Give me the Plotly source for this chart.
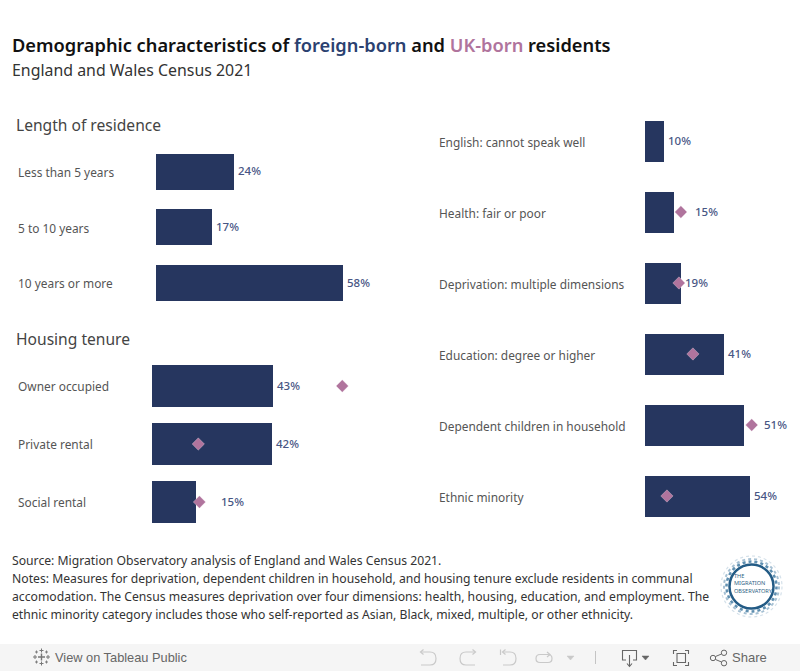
import plotly.graph_objects as go

# ---------- data ----------
residence_cats = ["Less than 5 years", "5 to 10 years", "10 years or more"]
residence_foreign = [24.2, 17.4, 58.1]
residence_labels = ["24%", "17%", "58%"]

housing_cats = ["Owner occupied", "Private rental", "Social rental"]
housing_foreign = [42.6, 42.25, 15.5]
housing_uk = [67, 16.3, 16.7]
housing_labels = ["43%", "42%", "15%"]

demo_cats = ["English: cannot speak well", "Health: fair or poor", "Deprivation: multiple dimensions",
             "Education: degree or higher", "Dependent children in household", "Ethnic minority"]
demo_foreign = [9.8, 14.9, 18.6, 40.7, 51, 54.1]
demo_uk = [None, 18.5, 17.5, 24.7, 55, 11.3]
demo_labels = ["10%", "15%", "19%", "41%", "51%", "54%"]

footer_lines = [
    "Source: Migration Observatory analysis of England and Wales Census 2021.",
    "Notes: Measures for deprivation, dependent children in household, and housing tenure exclude residents in communal",
    "accomodation. The Census measures deprivation over four dimensions: health, housing, education, and employment. The",
    "ethnic minority category includes those who self-reported as Asian, Black, mixed, multiple, or other ethnicity.",
]

# ---------- style ----------
FONT = "Noto Sans"
NAVY = "#26365f"
PINK = "#b0749d"
LABEL = "#485684"
W, H = 800, 671

fig = go.Figure()


def dom_x(a, b):
    return [a / W, b / W]


def dom_y(top, bottom):
    return [1 - bottom / H, 1 - top / H]


panels = [
    dict(cats=residence_cats, foreign=residence_foreign, uk=None, labels=residence_labels, xa="x", ya="y",
         xdom=(156, 400), ydom=(144.2, 310.8), scale=3.22, gap=0.35, shifts=[4, 4, 4], ys=0),
    dict(cats=housing_cats, foreign=housing_foreign, uk=housing_uk, labels=housing_labels, xa="x2", ya="y2",
         xdom=(152, 400), ydom=(357, 531), scale=2.84, gap=0.276, shifts=[4, 4, 25], ys=0),
    dict(cats=demo_cats, foreign=demo_foreign, uk=demo_uk, labels=demo_labels, xa="x3", ya="y3",
         xdom=(645, 800), ydom=(105.5, 531.5), scale=1.94, gap=0.433, shifts=[4, 21, 4, 4, 20, 4], ys=-0.7),
]

annotations = []
for i, p in enumerate(panels):
    sfx = "" if i == 0 else str(i + 1)
    fig.add_trace(go.Bar(y=p["cats"], x=p["foreign"], orientation="h", marker_color=NAVY,
                         marker_line_width=0, xaxis=p["xa"], yaxis=p["ya"], showlegend=False,
                         width=1 - p["gap"]))
    if p["uk"]:
        fig.add_trace(go.Scatter(y=p["cats"], x=p["uk"], mode="markers", xaxis=p["xa"], yaxis=p["ya"],
                                 marker=dict(symbol="diamond", size=9.5, color=PINK,
                                             line=dict(color="rgba(255,255,255,0.45)", width=0.6)),
                                 cliponaxis=False, showlegend=False))
    xr = (p["xdom"][1] - p["xdom"][0]) / p["scale"]
    fig.update_layout({
        f"xaxis{sfx}": dict(domain=dom_x(*p["xdom"]), range=[0, xr], visible=False, fixedrange=True),
        f"yaxis{sfx}": dict(domain=dom_y(*p["ydom"]), type="category", autorange="reversed",
                            visible=False, fixedrange=True, categoryorder="array", categoryarray=p["cats"]),
    })
    label_x = 439 if i == 2 else 18
    for cat, val, lab, sh in zip(p["cats"], p["foreign"], p["labels"], p["shifts"]):
        annotations.append(dict(x=label_x / W, xref="paper", y=cat, yref=p["ya"], text=cat, showarrow=False,
                                xanchor="left", yanchor="middle", yshift=p["ys"], borderpad=0, borderwidth=0,
                                font=dict(family=FONT, size=11.9, color="#555555")))
        annotations.append(dict(x=val, xref=p["xa"], y=cat, yref=p["ya"], text=lab, showarrow=False,
                                xanchor="left", yanchor="middle", xshift=sh, yshift=1, borderpad=0, borderwidth=0,
                                font=dict(family=FONT, size=11.5, color=LABEL, weight=500)))

# overlay axis in page pixels for page furniture (title, footer, toolbar)
fig.add_trace(go.Scatter(x=[0, W], y=[H, 0], mode="markers", marker=dict(opacity=0, size=1),
                         xaxis="x4", yaxis="y4", showlegend=False, hoverinfo="skip"))
fig.update_layout(
    xaxis4=dict(domain=[0, 1], range=[0, W], visible=False, fixedrange=True),
    yaxis4=dict(domain=[0, 1], range=[H, 0], visible=False, fixedrange=True),
)


def txt(x, y, text, size, color="#333333", family=FONT, weight=None):
    font = dict(family=family, size=size, color=color)
    if weight:
        font["weight"] = weight
    annotations.append(dict(x=x, y=y, xref="x4", yref="y4", text=text, showarrow=False, xanchor="left",
                            yanchor="middle", align="left", borderpad=0, borderwidth=0, font=font))


txt(12, 44.5, 'Demographic characteristics of <span style="color:#2b4170">foreign-born</span> and '
              '<span style="color:#b0749d">UK-born</span> residents', 18.25, "#111111", weight=600)
txt(12, 70, "England and Wales Census 2021", 15.9, "#333333")
txt(16, 125, "Length of residence", 15.6, "#444444")
txt(16, 339, "Housing tenure", 15.6, "#444444")
for y, line in zip([560, 578, 596, 614], footer_lines):
    txt(12, y, line, 12.2, "#333333")

shapes = []


def path(d, color="#c9c9c9", width=1.2, fill=None):
    s = dict(type="path", path=d, xref="x4", yref="y4", line=dict(color=color, width=width), layer="above")
    if fill:
        s["fillcolor"] = fill
    shapes.append(s)


def ring(r, color, width, dash="solid", cx=751.5, cy=586.5):
    shapes.append(dict(type="circle", x0=cx - r, x1=cx + r, y0=cy - r, y1=cy + r, xref="x4", yref="y4",
                       line=dict(color=color, width=width, dash=dash), layer="above"))


# toolbar
shapes.append(dict(type="rect", x0=0, x1=W, y0=644, y1=H, xref="x4", yref="y4",
                   fillcolor="#f5f5f5", line_width=0, layer="below"))
txt(55, 657.5, "View on Tableau Public", 12.8, "#666666", family="Liberation Sans")
txt(732, 657.5, "Share", 13, "#666666", family="Liberation Sans")

DIS = "#c9c9c9"
ACT = "#666666"
# undo
path("M 421 652 L 430 652 Q 436 652 436 658.5 Q 436 665 430 665 L 421 665", DIS)
path("M 423.5 649.5 L 420.5 652 L 423.5 654.5", DIS)
# redo
path("M 475 652 L 466 652 Q 460 652 460 658.5 Q 460 665 466 665 L 475 665", DIS)
path("M 472.5 649.5 L 475.5 652 L 472.5 654.5", DIS)
# revert
path("M 503 652 L 510 652 Q 516 652 516 658.5 Q 516 665 510 665 L 503 665", DIS)
path("M 505.5 649.5 L 502.5 652 L 505.5 654.5", DIS)
path("M 500.5 649.5 L 500.5 655", DIS)
# refresh
path("M 540 654.5 Q 536 654.5 536 658.5 Q 536 662.5 540 662.5 L 548 662.5 Q 552 662.5 552 658.5 "
     "Q 552 654.5 548 654.5 Z", DIS)
path("M 547 652 L 550 654.5 L 547 657", DIS)
# dropdown + separator
path("M 567 656 L 574 656 L 570.5 660 Z", DIS, 0.5, DIS)
path("M 595.5 651 L 595.5 664", "#c4c4c4", 1)
# download
path("M 626 660 L 622.5 660 L 622.5 650.5 L 636.5 650.5 L 636.5 660 L 633 660", ACT, 1.1)
path("M 629.5 655 L 629.5 666 M 627 663.5 L 629.5 666.5 L 632 663.5", ACT, 1.1)
path("M 642 656 L 649 656 L 645.5 660 Z", ACT, 0.5, ACT)
# fullscreen
path("M 673.5 654 L 673.5 650.5 L 677 650.5 M 685 650.5 L 688.5 650.5 L 688.5 654 "
     "M 688.5 662 L 688.5 665.5 L 685 665.5 M 677 665.5 L 673.5 665.5 L 673.5 662", ACT, 1.1)
path("M 677 653.5 L 685.5 653.5 L 685.5 662.5 L 677 662.5 Z", ACT, 1.1)
# share
path("M 715.5 656.5 L 721.5 654 M 715.5 659.5 L 721.5 662", ACT, 1)
for cx, cy in [(713, 658), (724, 652.8), (724, 663.2)]:
    shapes.append(dict(type="circle", x0=cx - 2.7, x1=cx + 2.7, y0=cy - 2.7, y1=cy + 2.7, xref="x4", yref="y4",
                       line=dict(color=ACT, width=1), layer="above"))
# tableau mark
for cx, cy, a, wd in [(41.5, 657, 3.5, 1.4), (41.5, 650.5, 2, 1), (41.5, 663.5, 2, 1), (35, 657, 2, 1),
                      (48, 657, 2, 1), (36.5, 652, 1.5, 0.9), (46.5, 652, 1.5, 0.9),
                      (36.5, 662, 1.5, 0.9), (46.5, 662, 1.5, 0.9)]:
    path(f"M {cx - a} {cy} L {cx + a} {cy} M {cx} {cy - a} L {cx} {cy + a}", "#777777", wd)

# logo
ring(30.5, "#d5e1ea", 1.2, "dot")
ring(27.5, "#a6c0d3", 2, "dot")
ring(25, "#5f8fb0", 2.5, "dot")
ring(22, "#235b85", 2.5)
annotations.append(dict(x=734, y=583, xref="x4", yref="y4", showarrow=False, xanchor="left", yanchor="middle",
                        align="left", borderpad=0, borderwidth=0, text="THE<br>MIGRATION<br>OBSERVATORY",
                        font=dict(family=FONT, size=5.6, color="#2f5f85")))

fig.update_layout(width=W, height=H, margin=dict(l=0, r=0, t=0, b=0), paper_bgcolor="white",
                  plot_bgcolor="rgba(0,0,0,0)", annotations=annotations, shapes=shapes, bargap=0)
fig.write_html("out.html", config={"displayModeBar": False, "responsive": False},
               post_script="document.body.style.margin='0';document.body.style.overflow='hidden';")
